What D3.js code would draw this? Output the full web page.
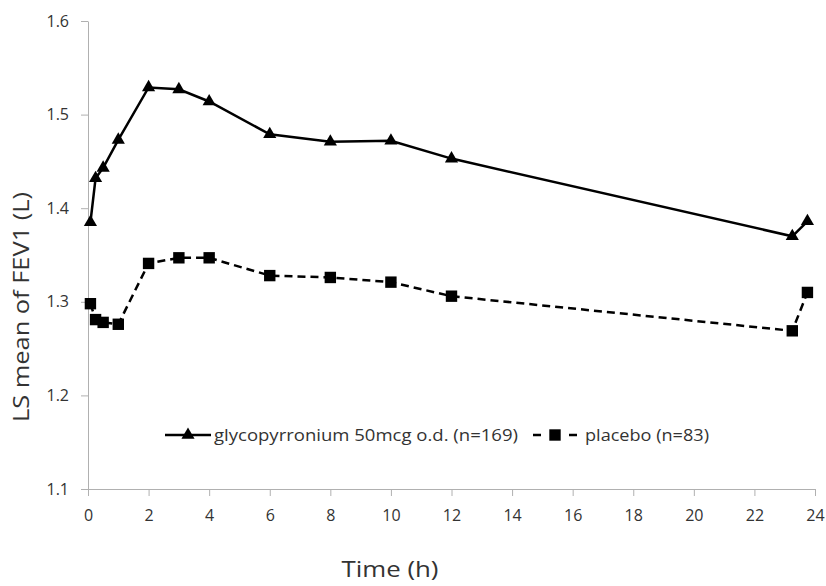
<!DOCTYPE html>
<html>
<head>
<meta charset="utf-8">
<script src="https://cdn.jsdelivr.net/npm/d3@7"></script>
<style>
  body { margin: 0; background: #fff; }
  svg text { font-family: "Open Sans", Lato, sans-serif; fill: #333; }
</style>
</head>
<body>
<svg id="chart"></svg>
<script>
// time points (h) and LS mean FEV1 (L)
var times = [0.08, 0.25, 0.5, 1, 2, 3, 4, 6, 8, 10, 12, 23.25, 23.75];
var glyco = [1.385, 1.432, 1.443, 1.473, 1.529, 1.527, 1.514, 1.479, 1.471, 1.472, 1.453, 1.370, 1.386];
var placebo = [1.298, 1.281, 1.278, 1.276, 1.341, 1.347, 1.347, 1.328, 1.326, 1.321, 1.306, 1.269, 1.310];
var xTicks = [0, 2, 4, 6, 8, 10, 12, 14, 16, 18, 20, 22, 24];
var yTicks = [1.1, 1.2, 1.3, 1.4, 1.5, 1.6];
var seriesNames = ["glycopyrronium 50mcg o.d. (n=169)", "placebo (n=83)"];

const width = 826;
const height = 586;
const marginLeft = 88;
const marginRight = 11;
const marginTop = 21;
const marginBottom = 97;

const x = d3.scaleLinear([0, 24], [marginLeft, width - marginRight]);
const y = d3.scaleLinear([1.1, 1.6], [height - marginBottom, marginTop]);

var svg = d3.select('#chart')
    .attr("width", width)
    .attr("height", height)
    .attr("viewBox", [0, 0, width, height]);

// X axis
svg.append("g")
    .attr("transform", "translate(0," + (height - marginBottom) + ")")
    .call(d3.axisBottom(x).tickValues(xTicks).tickSize(7).tickPadding(14).tickSizeOuter(0))
    .call(function(g) {
        g.selectAll("line, path").attr("stroke", "#b0b0b0");
        g.selectAll("text").attr("font-size", 16).attr("fill", "#333");
    });

// Y axis
svg.append("g")
    .attr("transform", "translate(" + marginLeft + ",0)")
    .call(d3.axisLeft(y).tickValues(yTicks).tickFormat(d3.format(".1f")).tickSize(7).tickPadding(12).tickSizeOuter(0))
    .call(function(g) {
        g.selectAll("line, path").attr("stroke", "#b0b0b0");
        g.selectAll("text").attr("font-size", 16).attr("fill", "#333");
    });

// axis titles
svg.append("text")
    .attr("x", 390).attr("y", 577)
    .attr("text-anchor", "middle")
    .attr("font-size", 21)
    .attr("textLength", 97).attr("lengthAdjust", "spacingAndGlyphs")
    .text("Time (h)");

svg.append("text")
    .attr("transform", "translate(29,307) rotate(-90)")
    .attr("text-anchor", "middle")
    .attr("font-size", 21)
    .attr("textLength", 230).attr("lengthAdjust", "spacingAndGlyphs")
    .text("LS mean of FEV1 (L)");

var line = d3.line()
    .x(function(d, i) { return x(times[i]); })
    .y(function(d) { return y(d); });

var tri = d3.symbol(d3.symbolTriangle, 75);
var sq = d3.symbol(d3.symbolSquare, 130);

// placebo
svg.append("path")
    .datum(placebo)
    .attr("fill", "none")
    .attr("stroke", "#000")
    .attr("stroke-width", 2.5)
    .attr("stroke-dasharray", "8,5")
    .attr("d", line);
svg.append("g").selectAll("path")
    .data(placebo)
    .join("path")
    .attr("transform", function(d, i) { return "translate(" + x(times[i]) + "," + y(d) + ")"; })
    .attr("d", sq)
    .attr("fill", "#000");

// glycopyrronium
svg.append("path")
    .datum(glyco)
    .attr("fill", "none")
    .attr("stroke", "#000")
    .attr("stroke-width", 2.5)
    .attr("d", line);
svg.append("g").selectAll("path")
    .data(glyco)
    .join("path")
    .attr("transform", function(d, i) { return "translate(" + x(times[i]) + "," + y(d) + ")"; })
    .attr("d", tri)
    .attr("fill", "#000");

// legend
var ly = 435;
var leg = svg.append("g");
leg.append("line").attr("x1", 165).attr("x2", 211).attr("y1", ly).attr("y2", ly)
    .attr("stroke", "#000").attr("stroke-width", 2.5);
leg.append("path").attr("transform", "translate(188," + ly + ")").attr("d", tri).attr("fill", "#000");
leg.append("text").attr("x", 214).attr("y", ly + 6).attr("font-size", 16)
    .attr("textLength", 304).attr("lengthAdjust", "spacingAndGlyphs")
    .text(seriesNames[0]);

leg.append("line").attr("x1", 533).attr("x2", 581).attr("y1", ly).attr("y2", ly)
    .attr("stroke", "#000").attr("stroke-width", 2.5).attr("stroke-dasharray", "8,10");
leg.append("path").attr("transform", "translate(555," + ly + ")").attr("d", sq).attr("fill", "#000");
leg.append("text").attr("x", 585).attr("y", ly + 6).attr("font-size", 16)
    .attr("textLength", 124).attr("lengthAdjust", "spacingAndGlyphs")
    .text(seriesNames[1]);
</script>
</body>
</html>
